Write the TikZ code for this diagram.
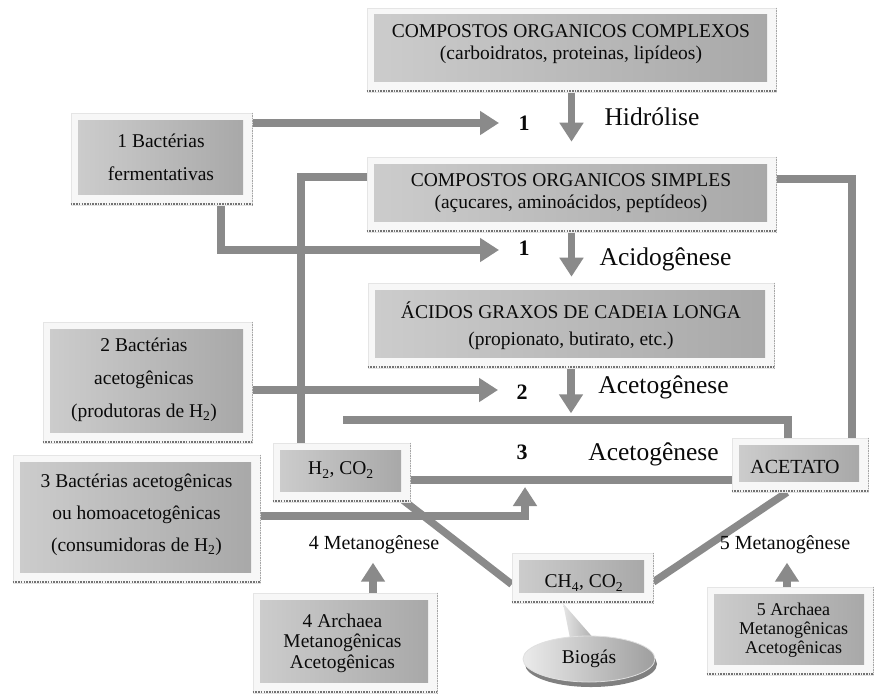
\documentclass[tikz,border=0pt]{standalone}
\usepackage{fontspec}
\setmainfont{Liberation Serif}
\usetikzlibrary{arrows.meta,calc,shapes.geometric}
\definecolor{cg}{HTML}{8A8A8A}
\definecolor{tx}{HTML}{0A0A0A}
\pgfdeclarelayer{back}
\pgfdeclarelayer{bg}
\pgfsetlayers{back,bg,main}
\tikzset{
  boxframe/.style={rectangle, inner sep=0pt, fill=black!3, draw=black!10, line width=0.6pt},
  shadein/.style={rectangle, inner sep=0pt, left color=black!20, middle color=black!5, right color=black!34},
  lbl/.style={inner sep=0pt, text=tx, align=center},
  btxt/.style={lbl, font=\fontsize{19.5}{#1}\selectfont},
  big/.style={lbl, font=\fontsize{25.5}{27}\selectfont},
  num/.style={lbl, font=\bfseries\fontsize{22}{22}\selectfont},
  conn/.style={draw=cg, line width=7.5pt},
  arr/.style={conn, -{Triangle[length=19pt,width=23pt]}},
}
\newcommand\drawbox[5]{%
  \node[boxframe, minimum width={(#4-#2)*1pt}, minimum height={(#5-#3)*1pt}] (#1) at ({(#2+#4)/2},{(#3+#5)/2}) {};
  \node[shadein, minimum width={(#4-#2-16)*1pt}, minimum height={(#5-#3-18)*1pt}] (#1-in) at ({(#2+#4)/2-1},{(#3+#5)/2-2}) {};
  \draw[black!55, line width=2.4pt, dash pattern=on 1.6pt off 1.1pt] ([yshift=1.3pt]#1.south west) -- ([yshift=1.3pt]#1.south east);
  \draw[black!35, line width=0.8pt, dash pattern=on 1.5pt off 1pt] (#1.north east) -- (#1.south east);
}
\begin{document}
\begin{tikzpicture}[x=1pt,y=-1pt]
\useasboundingbox (0,0) rectangle (874,693);
\begin{pgfonlayer}{back}
\fill[white] (0,0) rectangle (874,693);
\end{pgfonlayer}

% boxes
\drawbox{top}{367}{8}{776}{92}
\drawbox{simp}{367}{157}{776}{232}
\drawbox{acid}{368}{283}{774}{368}
\drawbox{b1}{71}{113}{252}{205}
\drawbox{b2}{43}{322}{252}{443}
\drawbox{b3}{13}{455}{260}{583}
\drawbox{h2}{273}{443}{410}{502}
\drawbox{acet}{732}{438}{868}{492}
\drawbox{ch4}{512}{553}{653}{603}
\drawbox{b4}{253}{593}{437}{693}
\drawbox{b5}{707}{587}{873}{675}

% box texts
\node[btxt=22] (ttop) at (571,44) {COMPOSTOS ORGANICOS COMPLEXOS\\(carboidratos, proteinas, lipídeos)};
\node[btxt=22] (tsimp) at (571,193) {COMPOSTOS ORGANICOS SIMPLES\\(açucares, aminoácidos, peptídeos)};
\node[btxt=27] (tacid) at (571,326) {ÁCIDOS GRAXOS DE CADEIA LONGA\\(propionato, butirato, etc.)};
\node[btxt=33] (tb1) at (161,157) {1 Bactérias\\fermentativas};
\node[btxt=33] (tb2) at (144,380) {2 Bactérias\\acetogênicas\\(produtoras de H\textsubscript{2})};
\node[btxt=32] (tb3) at (136.5,515) {3 Bactérias acetogênicas\\ou homoacetogênicas\\(consumidoras de H\textsubscript{2})};
\node[btxt=20.5] (tb4) at (342.5,643) {4 Archaea\\Metanogênicas\\Acetogênicas};
\node[lbl, font=\fontsize{18}{18.8}\selectfont] (tb5) at (793.5,630) {5 Archaea\\Metanogênicas\\Acetogênicas};
\node[btxt=20] (th2) at (341,470) {H\textsubscript{2}, CO\textsubscript{2}};
\node[lbl, font=\fontsize{20}{20}\selectfont] (tacet) at (795,467) {ACETATO};
\node[btxt=20] (tch4) at (584,583) {CH\textsubscript{4}, CO\textsubscript{2}};

% numbers and stage labels
\node[num] (n1a) at (524,123) {1};
\node[num] (n1b) at (524,248) {1};
\node[num] (n2) at (522,392) {2};
\node[num] (n3) at (522,452) {3};
\node[big] (lhid) at (652,117) {Hidrólise};
\node[big] (lacid) at (665.5,259) {Acidogênese};
\node[big] (lacet1) at (663.5,387) {Acetogênese};
\node[big] (lacet2) at (653.5,454) {Acetogênese};
\node[lbl, font=\fontsize{20}{20}\selectfont] (met4) at (374,545) {4 Metanogênese};
\node[lbl, font=\fontsize{20}{20}\selectfont] (met5) at (785,545) {5 Metanogênese};

% biogas
\fill[black!50] (591,664) ellipse (66 and 23);
\shade[left color=black!10, right color=black!38] ([xshift=-19.5pt]ch4.south) -- (572,648) -- (602,648) -- cycle;
\node[ellipse, inner sep=0pt, minimum width=132pt, minimum height=46pt, left color=black!8, right color=black!38, draw=black!12, line width=0.8pt, text=tx, font=\fontsize{19.5}{19.5}\selectfont] (bio) at (589,659) {Biogás};

% connectors
\coordinate (l9) at (343,420);
\begin{pgfonlayer}{bg}
\draw[arr] ([yshift=36pt]b1.east) -- ($(n1a.center)+(-25,0)$);
\draw[arr] ([xshift=59.5pt]b1.south) |- ($(n1b.center)+(-25,2)$);
\draw[arr, shorten >=15pt] (top.south) -- (simp.north);
\draw[arr, shorten >=6pt] (simp.south) -- (simp.south |- acid.north);
\draw[arr] (acid.south) -- ++(0,45);
\draw[arr] ([yshift=-7.5pt]b2.east) -- ($(n2.center)+(-24,-2)$);
\draw[conn] ([yshift=17.5pt]simp.west) -| ([xshift=-40.5pt]h2.north);
\draw[conn] ([yshift=15.5pt]simp.east) -| ([xshift=52pt]acet.north);
\draw[conn] (l9) -| ([xshift=-12pt]acet.north);
\draw[conn] ([yshift=-7.5pt]h2.east) -- ([yshift=-7.5pt]h2.east -| acet.west);
\draw[arr] ([yshift=3pt]b3.east) -| ($(n3.center)+(3,35)$);
\draw[conn] ([xshift=-7pt,yshift=2pt]h2.south east) -- ($(ch4.west)!0.25!(ch4.south west)$);
\draw[conn] ($(ch4.east)+(0,4)$) -- ([xshift=-13pt]acet.south);
\draw[arr] ([xshift=28pt]b4.north) -- ++(0,-30);
\draw[arr] ([xshift=-3pt]b5.north) -- ++(0,-24);
\end{pgfonlayer}
\end{tikzpicture}
\end{document}
